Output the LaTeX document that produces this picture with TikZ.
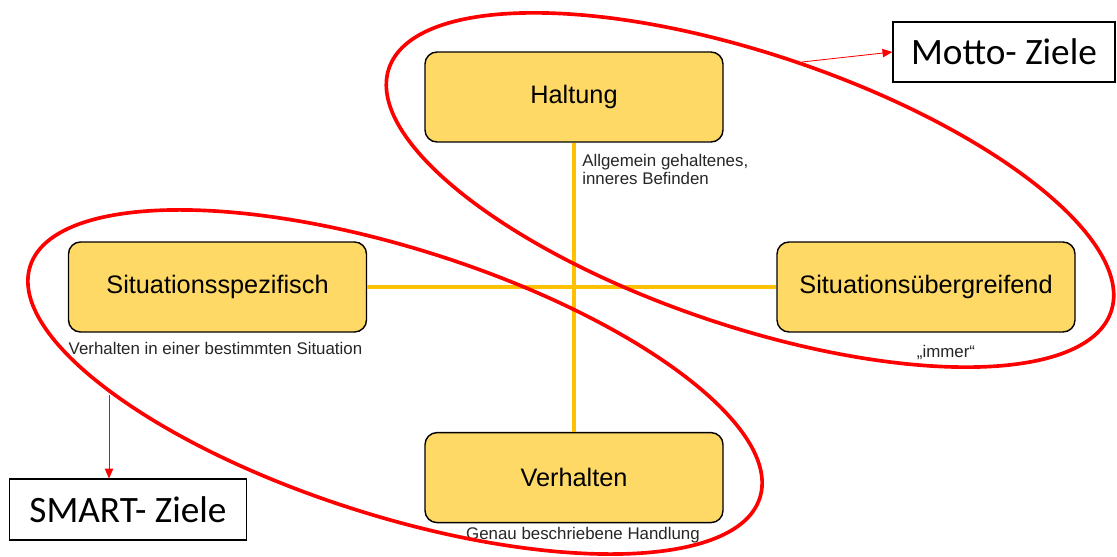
\documentclass[tikz,border=0pt]{standalone}
\usepackage{fontspec}
\setmainfont{Liberation Sans}
\newfontfamily\calibri{Carlito}
\usepackage{xcolor}
\usetikzlibrary{arrows.meta,positioning,calc}
\definecolor{boxgold}{HTML}{FFD966}
\definecolor{axisgold}{HTML}{FFC000}
\definecolor{notegray}{HTML}{262626}

\begin{document}
\begin{tikzpicture}[
    box/.style={draw=black, line width=1pt, fill=boxgold, rounded corners=0.3cm,
        minimum width=7.45cm, minimum height=2.25cm, font=\fontsize{18}{22}\selectfont},
    note/.style={font=\fontsize{12}{13.5}\selectfont, text=notegray, inner sep=0pt},
    zielbox/.style={draw=black, line width=0.9pt, fill=white, inner sep=0pt,
        font=\calibri\fontsize{26.5}{30}\selectfont},
    pointer/.style={red, line width=0.6pt, -{Triangle[length=7pt,width=6pt]}}
]
    \useasboundingbox (0,0) rectangle (27.925,-13.925);

    % Quadrant boxes
    \node[box] (haltung) at (14.35,-2.425) {Haltung};
    \node[box] (spez) at (5.4375,-7.175) {Situationsspezifisch};
    \node[box] (ueber) at (23.15,-7.175) {Situationsübergreifend};
    \node[box] (verh) at (14.35,-11.94) {Verhalten};

    % Axes
    \draw[axisgold, line width=3.5pt] (haltung) -- (verh);
    \draw[axisgold, line width=3.5pt] (spez) -- (ueber);

    % Notes under the boxes
    \node[note, anchor=base west, align=left] (befinden) at (14.55,-4.625) {Allgemein gehaltenes,\\inneres Befinden};
    \node[note, anchor=base west] (situation) at (1.71,-8.85) {Verhalten in einer bestimmten Situation};
    \node[note, anchor=base] (immer) at (23.65,-8.925) {„immer“};
    \node[note, anchor=base] (handlung) at (14.575,-13.475) {Genau beschriebene Handlung};

    % Goal groups
    \draw[red, line width=2.6pt, rotate around={-18.6:(18.75,-4.75)}] (18.75,-4.75) ellipse (9.525 and 3.4);
    \draw[red, line width=2.6pt, rotate around={-17.6:(9.875,-9.55)}] (9.875,-9.55) ellipse (9.57 and 3.34);

    % Goal labels
    \node[zielbox, minimum width=5.55cm, minimum height=1.5cm] (motto) at (25.1,-1.3) {Motto- Ziele};
    \node[zielbox, minimum width=5.925cm, minimum height=1.525cm] (smart) at (3.2,-12.74) {SMART- Ziele};

    \coordinate (mottostart) at (20.05,-1.55);
    \coordinate (smartstart) at (2.725,-9.875);
    \draw[pointer] (mottostart) -- (motto.west);
    \draw[pointer] (smartstart) -- (smartstart |- smart.north);
\end{tikzpicture}
\end{document}
